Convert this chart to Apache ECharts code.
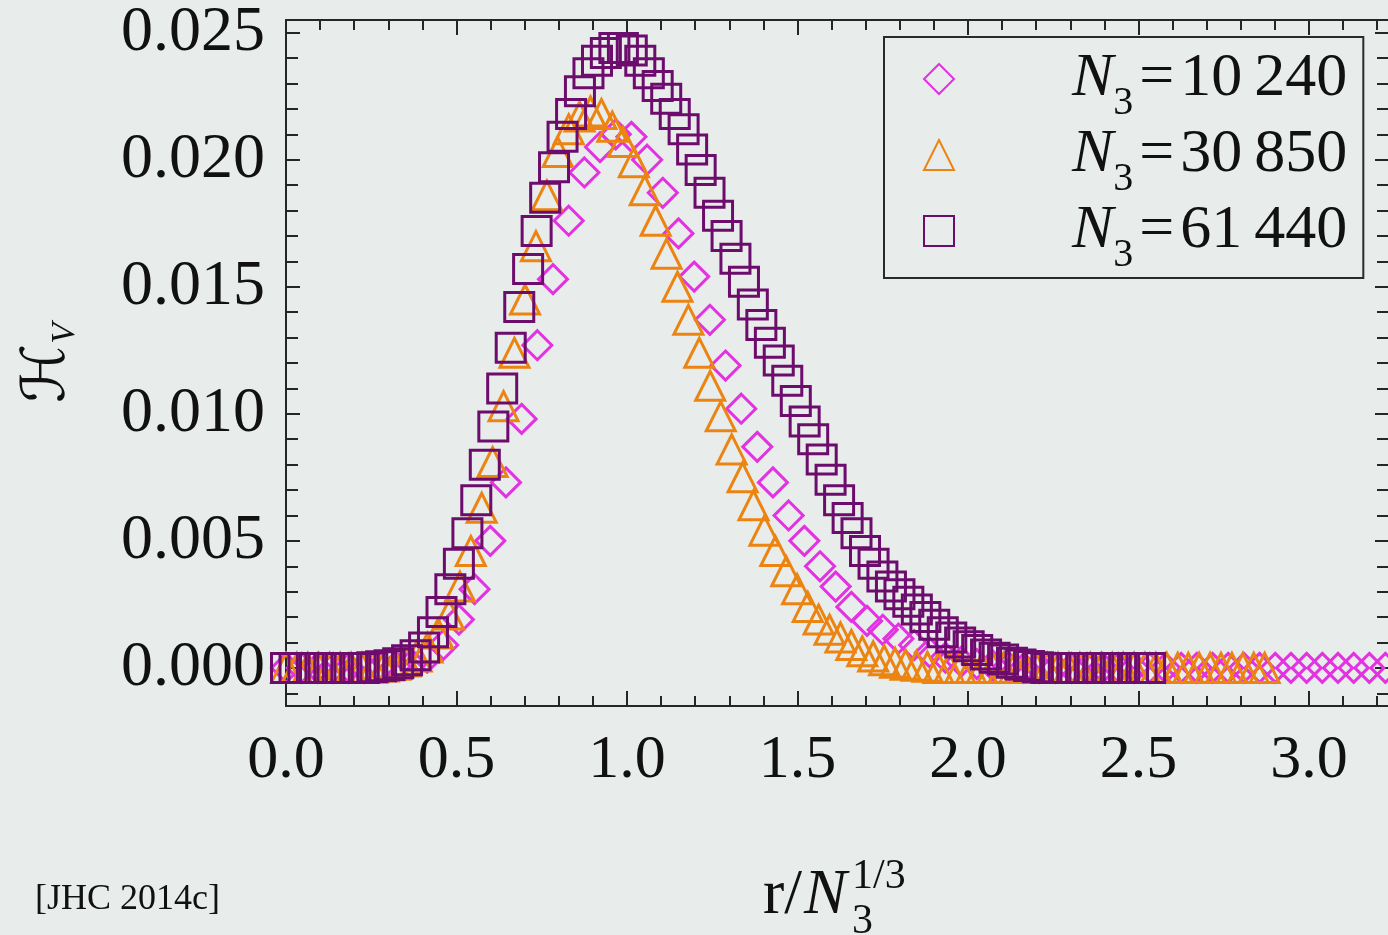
<!DOCTYPE html>
<html>
<head>
<meta charset="utf-8">
<script src="https://cdn.jsdelivr.net/npm/echarts@6/dist/echarts.min.js"></script>
<style>
html,body{margin:0;padding:0;background:#e8ecea;}
#chart{width:1388px;height:935px;}
</style>
</head>
<body>
<div id="chart"></div>
<script>
// ---------- data ----------
const seriesNames = ['N3=10 240', 'N3=30 850', 'N3=61 440'];
const legendThousands = ['10', '30', '61'];
const legendUnits = ['240', '850', '440'];

const diamondX = [
 0.000,0.046,0.092,0.138,0.184,0.230,0.276,0.322,0.368,0.414,
 0.461,0.507,0.553,0.599,0.645,0.691,0.737,0.783,0.829,0.875,
 0.921,0.967,1.013,1.059,1.105,1.151,1.197,1.243,1.289,1.335,
 1.382,1.428,1.474,1.520,1.566,1.612,1.658,1.704,1.750,1.796,
 1.842,1.888,1.934,1.980,2.026,2.072,2.118,2.164,2.210,2.256,
 2.303,2.349,2.395,2.441,2.487,2.533,2.579,2.625,2.671,2.717,
 2.763,2.809,2.855,2.901,2.947,2.993,3.039,3.085,3.131,3.177,
 3.224];
const diamondY = [
 0,0,0,0,0,0,0.00002,0.00006,0.00015,0.0004,
 0.0009,0.0019,0.0031,0.0050,0.0073,0.0098,0.0127,0.0153,0.0176,0.0195,
 0.0205,0.0210,0.0209,0.0200,0.0187,0.0171,0.0154,0.0137,0.0119,0.0102,
 0.0087,0.0073,0.0060,0.0050,0.0040,0.0032,0.0024,0.00185,0.0015,0.00115,
 0.0009,0.0006,0.0004,0.00025,0.00015,0.0001,0.00005,0,0,0,
 0,0,0,0,0,0,0,0,0,0,
 0,0,0,0,0,0,0,0,0,0,
 0];

const triangleX = [
 0.000,0.032,0.064,0.096,0.128,0.159,0.191,0.223,0.255,0.287,
 0.319,0.351,0.383,0.415,0.446,0.478,0.510,0.542,0.574,0.606,
 0.638,0.670,0.701,0.733,0.765,0.797,0.829,0.861,0.893,0.925,
 0.957,0.988,1.020,1.052,1.084,1.116,1.148,1.180,1.212,1.244,
 1.275,1.307,1.339,1.371,1.403,1.435,1.467,1.499,1.530,1.562,
 1.594,1.626,1.658,1.690,1.722,1.754,1.786,1.817,1.849,1.881,
 1.913,1.945,1.977,2.009,2.041,2.073,2.104,2.136,2.168,2.200,
 2.232,2.264,2.296,2.328,2.359,2.391,2.423,2.455,2.487,2.519,
 2.551,2.583,2.615,2.646,2.678,2.710,2.742,2.774,2.806,2.838,
 2.870];
const triangleY = [
 0,0,0,0,0,0,0,0,0.00002,0.00005,
 0.00012,0.00025,0.00045,0.0008,0.00135,0.0021,0.0032,0.0046,0.0063,0.0081,
 0.0103,0.0124,0.0145,0.0166,0.0186,0.0203,0.0212,0.0217,0.0219,0.0218,
 0.0213,0.0207,0.0199,0.0188,0.0176,0.0163,0.0150,0.0137,0.0124,0.0111,
 0.0099,0.0086,0.0075,0.0064,0.0054,0.0046,0.0038,0.0031,0.0024,0.0019,
 0.0015,0.0012,0.0009,0.00065,0.00045,0.0003,0.0002,0.00012,0.00008,0.00004,
 0,0,0,0,0,0,0,0,0,0,
 0,0,0,0,0,0,0,0,0,0,
 0,0,0,0,0,0,0,0,0,0,
 0];

const squareX = [
 0.000,0.025,0.051,0.076,0.101,0.127,0.152,0.177,0.203,0.228,
 0.253,0.279,0.304,0.329,0.355,0.380,0.405,0.431,0.456,0.482,
 0.507,0.532,0.558,0.583,0.608,0.634,0.659,0.684,0.710,0.735,
 0.760,0.786,0.811,0.836,0.862,0.887,0.912,0.938,0.963,0.988,
 1.014,1.039,1.064,1.090,1.115,1.140,1.166,1.191,1.216,1.242,
 1.267,1.292,1.318,1.343,1.369,1.394,1.419,1.445,1.470,1.495,
 1.521,1.546,1.571,1.597,1.622,1.647,1.673,1.698,1.723,1.749,
 1.774,1.799,1.825,1.850,1.875,1.901,1.926,1.951,1.977,2.002,
 2.027,2.053,2.078,2.103,2.129,2.154,2.179,2.205,2.230,2.256,
 2.281,2.306,2.332,2.357,2.382,2.408,2.433,2.458,2.484,2.509,
 2.534];
const squareY = [
 0,0,0,0,0,0,0,0,0,0,
 0.00003,0.00006,0.0001,0.00018,0.0003,0.0005,0.0008,0.0014,0.0022,0.0031,
 0.0041,0.0053,0.0066,0.0080,0.0095,0.0110,0.0126,0.0142,0.0157,0.0172,
 0.0185,0.0197,0.0209,0.0218,0.0227,0.0234,0.0239,0.0242,0.0244,0.0244,
 0.0243,0.0239,0.0234,0.0229,0.0224,0.0218,0.0212,0.0204,0.0196,0.0187,
 0.0178,0.0170,0.0161,0.0152,0.0143,0.0135,0.0128,0.0121,0.0113,0.0105,
 0.0097,0.0090,0.0082,0.0074,0.0066,0.0059,0.0053,0.0046,0.0041,0.0036,
 0.0032,0.0029,0.0026,0.0023,0.0020,0.0017,0.0014,0.0012,0.0010,0.00085,
 0.0007,0.00053,0.0004,0.00033,0.0002,0.00013,0.00007,0.00003,0,0,
 0,0,0,0,0,0,0,0,0,0,
 0];

// tick positions / labels
const xMajorTicks = [0, 0.5, 1.0, 1.5, 2.0, 2.5, 3.0];
const xMinorTicks = [0.1,0.2,0.3,0.4,0.6,0.7,0.8,0.9,1.1,1.2,1.3,1.4,1.6,1.7,1.8,1.9,
                     2.1,2.2,2.3,2.4,2.6,2.7,2.8,2.9,3.1,3.2];
const yMajorTicks = [0, 0.005, 0.010, 0.015, 0.020, 0.025];
const yMinorTicks = [-0.001,0.001,0.002,0.003,0.004,0.006,0.007,0.008,0.009,
                     0.011,0.012,0.013,0.014,0.016,0.017,0.018,0.019,
                     0.021,0.022,0.023,0.024];

// ---------- styling ----------
const X_MIN = 0, X_MAX = 3.2346, Y_MIN = -0.0015, Y_MAX = 0.0255;
const colors = ['#e232e2', '#ec8412', '#6c0c6c'];
const symbols = ['diamond', 'triangle', 'rect'];
const FONT = '"Liberation Serif", "Times New Roman", serif';
const AXIS_COLOR = '#262626';

function zip(xs, ys) { return xs.map((x, i) => [x, ys[i]]); }
const seriesData = [zip(diamondX, diamondY), zip(triangleX, triangleY), zip(squareX, squareY)];

function xAxisCfg(position, ticks, len, withLine, withLabel) {
  return {
    type: 'value', min: X_MIN, max: X_MAX, position: position,
    axisLine: { show: withLine, onZero: false, lineStyle: { color: AXIS_COLOR, width: 2 } },
    axisTick: { show: true, inside: true, length: len, customValues: ticks,
                lineStyle: { color: AXIS_COLOR, width: 2 } },
    axisLabel: { show: withLabel, customValues: ticks, margin: 24,
                 formatter: v => v.toFixed(1),
                 fontFamily: FONT, fontSize: 62, color: '#111' },
    splitLine: { show: false }
  };
}
function yAxisCfg(position, ticks, len, withLine, withLabel) {
  return {
    type: 'value', min: Y_MIN, max: Y_MAX, position: position,
    axisLine: { show: withLine, onZero: false, lineStyle: { color: AXIS_COLOR, width: 2 } },
    axisTick: { show: true, inside: true, length: len, customValues: ticks,
                lineStyle: { color: AXIS_COLOR, width: 2 } },
    axisLabel: { show: withLabel, customValues: ticks, margin: 21,
                 formatter: v => v.toFixed(3),
                 fontFamily: FONT, fontSize: 64, color: '#111' },
    splitLine: { show: false }
  };
}

const yMain = yAxisCfg('left', yMajorTicks, 14, true, true);
yMain.name = '{h|\u210B}{v|V}';
yMain.nameLocation = 'middle';
yMain.nameRotate = 90;
yMain.nameGap = 206;
yMain.nameTextStyle = {
  color: '#111',
  rich: {
    h: { fontFamily: '"DejaVu Serif", "DejaVu Sans", serif', fontSize: 60, lineHeight: 62,
         verticalAlign: 'top', color: '#111' },
    v: { fontFamily: FONT, fontStyle: 'italic', fontSize: 34, lineHeight: 34,
         verticalAlign: 'top', padding: [30, 0, 0, 0], color: '#111' }
  }
};

const chart = echarts.init(document.getElementById('chart'), null, { renderer: 'canvas' });
chart.setOption({
  backgroundColor: '#e8ecea',
  animation: false,
  grid: { left: 286, top: 20, width: 1103, height: 686, containLabel: false, outerBoundsMode: 'none' },
  xAxis: [
    xAxisCfg('bottom', xMajorTicks, 15, true, true),
    xAxisCfg('bottom', xMinorTicks, 10, false, false),
    xAxisCfg('top', xMajorTicks, 15, true, false),
    xAxisCfg('top', xMinorTicks, 10, false, false)
  ],
  yAxis: [
    yMain,
    yAxisCfg('left', yMinorTicks, 12, false, false),
    yAxisCfg('right', yMajorTicks, 14, true, false),
    yAxisCfg('right', yMinorTicks, 12, false, false)
  ],
  legend: {
    orient: 'vertical',
    left: 884, top: 37,
    padding: [11, 16, 3, 39],
    itemWidth: 30, itemHeight: 30, itemGap: 1,
    borderColor: '#2a2a2a', borderWidth: 2,
    selectedMode: false,
    data: seriesNames,
    formatter: function (name) {
      const i = seriesNames.indexOf(name);
      return '{n|N}{s|3}{e|=}{d|' + legendThousands[i] + '}{u|' + legendUnits[i] + '}';
    },
    textStyle: {
      color: '#111', fontFamily: FONT, fontSize: 62,
      rich: {
        n: { fontFamily: FONT, fontStyle: 'italic', fontSize: 62, lineHeight: 62,
             verticalAlign: 'top', padding: [0, 0, 0, 113], color: '#111' },
        s: { fontFamily: FONT, fontSize: 40, lineHeight: 30, verticalAlign: 'top',
             padding: [35, 0, 0, 0], color: '#111' },
        e: { fontFamily: FONT, fontSize: 62, lineHeight: 62, verticalAlign: 'top',
             padding: [0, 6, 0, 6], color: '#111' },
        d: { fontFamily: FONT, fontSize: 62, lineHeight: 62, verticalAlign: 'top', color: '#111' },
        u: { fontFamily: FONT, fontSize: 62, lineHeight: 62, verticalAlign: 'top',
             padding: [0, 0, 0, 12], color: '#111' }
      }
    }
  },
  series: seriesNames.map((name, i) => ({
    name: name,
    type: 'scatter',
    xAxisIndex: 0, yAxisIndex: 0,
    data: seriesData[i],
    symbol: symbols[i],
    symbolSize: 29,
    clip: false,
    silent: true,
    itemStyle: { color: 'rgba(0,0,0,0)', borderColor: colors[i], borderWidth: 3, opacity: 1 }
  })),
  graphic: [
    { type: 'text', left: 763, top: 864, style: { text: 'r/', font: '64px "Liberation Serif"', fill: '#111' } },
    { type: 'text', left: 804, top: 864, style: { text: 'N', font: 'italic 64px "Liberation Serif"', fill: '#111' } },
    { type: 'text', left: 852, top: 856, style: { text: '1/3', font: '42px "Liberation Serif"', fill: '#111' } },
    { type: 'text', left: 852, top: 901, style: { text: '3', font: '42px "Liberation Serif"', fill: '#111' } },
    { type: 'text', left: 35, top: 882, style: { text: '[JHC 2014c]', font: '36px "Liberation Serif"', fill: '#111' } }
  ]
});
</script>
</body>
</html>
